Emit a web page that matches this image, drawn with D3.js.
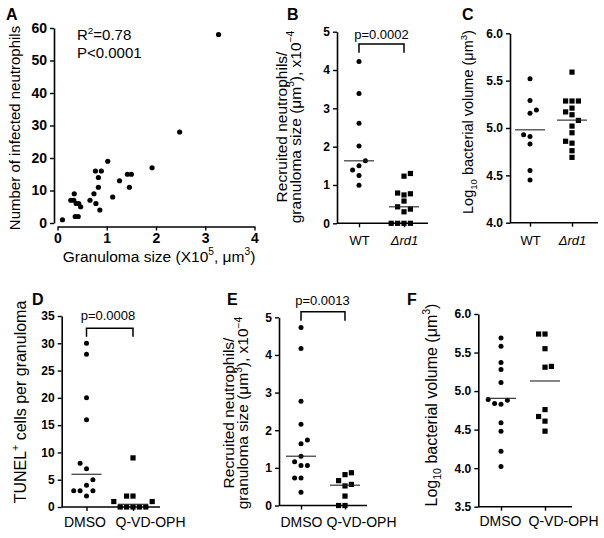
<!DOCTYPE html>
<html><head><meta charset="utf-8">
<script src="https://cdn.jsdelivr.net/npm/d3@7"></script>
<style>body{margin:0;background:#fff} svg{display:block}</style>
</head><body><svg id="c" width="604" height="538"></svg>
<script>
// ---------- DATA ----------
const aGranulomaSize = [0.10,0.27,0.34,0.33,0.38,0.43,0.47,0.36,0.42,0.66,0.74,0.78,0.86,0.77,0.89,0.83,0.83,1.02,1.12,1.26,1.42,1.50,1.46,1.92,2.48,3.27];
const aInfectedNeutrophils = [1,7,9,7,6,6,5,2,2,7,9,6,4,16,16,14,11,19,8,13,15,15,11,17,28,58];
const aXTicks = [0,1,2,3,4];
const aYTicks = [0,10,20,30,40,50,60];

const bCategories = ["WT","Δrd1"];
const bWT  = [4.22,3.39,2.61,2.02,1.63,1.50,1.39,1.25,0.99];
const bRd1 = [1.30,1.23,0.79,0.77,0.74,0.58,0.43,0.37,0.30,0,0,0,0];
const bYTicks = [0,1,2,3,4,5];
const bPValue = "p=0.0002";

const cCategories = ["WT","Δrd1"];
const cWT  = [5.52,5.29,5.19,5.155,4.93,4.91,4.83,4.55,4.45];
const cRd1 = [5.59,5.285,5.285,5.285,5.21,5.17,5.14,5.08,5.02,4.95,4.86,4.84,4.76,4.69];
const cYTicks = [4.0,4.5,5.0,5.5,6.0];

const dCategories = ["DMSO","Q-VD-OPH"];
const dDMSO = [30,28,20,16,8,7,5,4,3,3,3,2];
const dQVD  = [9,2,2,1,1,0,0,0,0,0];
const dYTicks = [0,5,10,15,20,25,30,35];
const dPValue = "p=0.0008";

const eCategories = ["DMSO","Q-VD-OPH"];
const eDMSO = [4.73,4.17,2.77,2.16,1.74,1.64,1.31,1.16,1.06,1.06,0.73,0.73,0.35];
const eQVD  = [0.87,0.82,0.66,0.56,0.52,0.25,0,0];
const eYTicks = [0,1,2,3,4,5];
const ePValue = "p=0.0013";

const fCategories = ["DMSO","Q-VD-OPH"];
const fDMSO = [5.69,5.58,5.37,5.28,5.11,4.89,4.88,4.84,4.83,4.59,4.48,4.22,4.02];
const fQVD  = [5.74,5.74,5.55,5.32,5.31,4.76,4.67,4.61,4.48];
const fYTicks = [3.5,4.0,4.5,5.0,5.5,6.0];

// ---------- DRAWING ----------
const FONT = '"Liberation Sans", Arial, Helvetica, sans-serif';
const svg = d3.select("#c");

function styleAxis(g, fs, bold){
  g.attr("font-family", FONT).attr("font-size", fs);
  g.select(".domain").attr("stroke","#000").attr("stroke-width",1.6);
  g.selectAll(".tick line").attr("stroke","#000").attr("stroke-width",1.4);
  g.selectAll(".tick text").attr("fill","#000").attr("font-weight", bold ? "bold" : "normal");
}

function richText(sel, parts, size){
  let shift = 0;
  parts.forEach(([t, ty]) => {
    const ts = sel.append("tspan").text(t);
    let target = 0, fs = size;
    if (ty === "sup"){ target = -size*0.42; fs = size*0.66; }
    if (ty === "sub"){ target = size*0.28; fs = size*0.66; }
    if (ty === "i") ts.attr("font-style","italic");
    ts.attr("font-size", fs);
    if (target !== shift){ ts.attr("dy", target - shift); shift = target; }
  });
}

function letter(x, y, t){
  svg.append("text").attr("x",x).attr("y",y).attr("font-family",FONT)
    .attr("font-weight","bold").attr("font-size",16).text(t);
}

function vTitle(x, y, parts, fs){
  const t = svg.append("text").attr("transform",`translate(${x},${y}) rotate(-90)`)
    .attr("text-anchor","middle").attr("font-family",FONT).attr("font-size",fs);
  richText(t, parts, fs);
}

function swarm(values, yScale, cx, step, minD){
  const pts = values.map(v => ({v, y: yScale(v)})).sort((a,b) => b.y - a.y);
  const placed = [];
  let nl = 0, nr = 0;
  for (const p of pts){
    for (let k = 0; k < 12; k++){
      const cands = k === 0 ? [0] : (nl <= nr ? [-k, k] : [k, -k]);
      let ok = null;
      for (const c of cands){
        const x = cx + c*step;
        if (placed.every(q => Math.hypot(q.x - x, q.y - p.y) >= minD)){ ok = c; break; }
      }
      if (ok !== null){
        p.x = cx + ok*step;
        if (ok < 0) nl++; else if (ok > 0) nr++;
        placed.push(p); break;
      }
    }
  }
  return placed;
}

// ----- Panel A -----
(function(){
  const x = d3.scaleLinear().domain([0,4]).range([57.5,254.5]);
  const y = d3.scaleLinear().domain([0,60]).range([223,28]);
  svg.append("g").attr("transform","translate(54,0)")
    .call(d3.axisLeft(y).tickValues(aYTicks).tickFormat(d3.format("d")).tickSize(4).tickSizeOuter(0).tickPadding(3))
    .call(g => styleAxis(g,14,true));
  svg.append("g").attr("transform","translate(0,226.5)")
    .call(d3.axisBottom(x).tickValues(aXTicks).tickFormat(d3.format("d")).tickSize(4).tickSizeOuter(0).tickPadding(3))
    .call(g => styleAxis(g,14,true));
  svg.append("g").selectAll("circle")
    .data(d3.zip(aGranulomaSize, aInfectedNeutrophils)).join("circle")
    .attr("cx", d => x(d[0])).attr("cy", d => y(d[1])).attr("r",2.6).attr("fill","#000");
  letter(6,20,"A");
  const r = svg.append("text").attr("x",77).attr("y",40).attr("font-family",FONT).attr("font-size",15);
  richText(r, [["R"],["2","sup"],["=0.78"]], 15);
  svg.append("text").attr("x",77).attr("y",58).attr("font-family",FONT).attr("font-size",15).text("P<0.0001");
  const xt = svg.append("text").attr("x",159).attr("y",262).attr("text-anchor","middle")
    .attr("font-family",FONT).attr("font-size",15.5);
  richText(xt, [["Granuloma size (X10"],["5","sup"],[", μm"],["3","sup"],[")"]], 15.5);
  vTitle(20,128,[["Number of infected neutrophils"]],15);
})();

// ----- Dot panels -----
function dotPanel(o){
  const g = svg.append("g");
  const y = d3.scaleLinear().domain(o.yDomain).range([o.yBottom,o.yTop]);
  const x = d3.scalePoint().domain(o.cats).range(o.catX);
  g.append("g").attr("transform",`translate(${o.axisX},0)`)
    .call(d3.axisLeft(y).tickValues(o.yTicks).tickFormat(o.fmt).tickSize(4).tickSizeOuter(0).tickPadding(3))
    .call(a => styleAxis(a,o.tickFs,true));
  const xa = g.append("g").attr("transform",`translate(0,${o.yBottom})`)
    .call(d3.axisBottom(x).tickSize(4).tickSizeOuter(0));
  xa.select(".domain").remove();
  styleAxis(xa,o.labelFs,false);
  xa.selectAll(".tick text").attr("y", o.labelY - o.yBottom).attr("dy",0)
    .attr("dx",(d,i) => o.labelDx[i])
    .attr("font-style", d => d.startsWith("Δ") ? "italic" : "normal");
  g.append("line").attr("x1",o.axisX).attr("x2",o.xEnd).attr("y1",o.yBottom).attr("y2",o.yBottom)
    .attr("stroke","#000").attr("stroke-width",1.6);

  o.groups.forEach((vals, i) => {
    const cx = x(o.cats[i]);
    const pts = swarm(vals, y, cx, 6.4, 6);
    if (o.shapes[i] === "circle"){
      g.append("g").selectAll("circle").data(pts).join("circle")
        .attr("cx", d => d.x).attr("cy", d => d.y).attr("r",2.5).attr("fill","#000");
    } else {
      g.append("g").selectAll("rect").data(pts).join("rect")
        .attr("x", d => d.x - 2.6).attr("y", d => d.y - 2.6).attr("width",5.2).attr("height",5.2).attr("fill","#000");
    }
    const s = o.stat(vals);
    g.append("line").attr("x1",cx-15).attr("x2",cx+15).attr("y1",y(s)).attr("y2",y(s))
      .attr("stroke","#222").attr("stroke-width",1.1);
  });

  if (o.pText){
    const x1 = x(o.cats[0]), x2 = x(o.cats[1]);
    g.append("path").attr("d",`M${x1},${o.brY+o.brH}V${o.brY}H${x2}V${o.brY+o.brH}`)
      .attr("fill","none").attr("stroke","#000").attr("stroke-width",1.5);
    g.append("text").attr("x",o.pX).attr("y",o.pY).attr("text-anchor","middle")
      .attr("font-family",FONT).attr("font-size",13).text(o.pText);
  }
  o.titles.forEach((parts, i) => vTitle(o.titleX[i], o.titleY, parts, o.titleFs));
  letter(o.letterX, o.letterY, o.letter);
}

const recruitTitle = [
  [["Recruited neutrophils/"]],
  [["granuloma size (μm"],["3","sup"],["), x10"],["−4","sup"]]
];
const logTitle = [[["Log"],["10","sub"],[" bacterial volume (μm"],["3","sup"],[")"]]];

dotPanel({letter:"B", letterX:287, letterY:20,
  axisX:337, yTop:31.7, yBottom:223.3, yDomain:[0,5], yTicks:bYTicks, fmt:d3.format("d"),
  xEnd:428, cats:bCategories, catX:[359,404], groups:[bWT,bRd1], shapes:["circle","square"], stat:d3.median,
  labelY:245, labelFs:13, labelDx:[0,0], tickFs:12,
  pText:bPValue, pX:381.5, pY:38.5, brY:44, brH:8.7,
  titles:recruitTitle, titleX:[287,300.5], titleY:127, titleFs:15.5});

dotPanel({letter:"C", letterX:462, letterY:20,
  axisX:510, yTop:33.3, yBottom:222.7, yDomain:[4,6], yTicks:cYTicks, fmt:d3.format(".1f"),
  xEnd:598, cats:cCategories, catX:[530,572], groups:[cWT,cRd1], shapes:["circle","square"], stat:d3.mean,
  labelY:245, labelFs:13, labelDx:[0,0], tickFs:12,
  titles:logTitle, titleX:[473], titleY:122, titleFs:14.5});

dotPanel({letter:"D", letterX:32, letterY:305,
  axisX:61.7, yTop:316, yBottom:507, yDomain:[0,35], yTicks:dYTicks, fmt:d3.format("d"),
  xEnd:160, cats:dCategories, catX:[86.5,133], groups:[dDMSO,dQVD], shapes:["circle","square"], stat:d3.median,
  labelY:526.5, labelFs:14, labelDx:[-2,17], tickFs:12,
  pText:dPValue, pX:108, pY:319.5, brY:328.3, brH:8.4,
  titles:[[["TUNEL"],["+","sup"],[" cells per granuloma"]]], titleX:[26], titleY:402, titleFs:16});

dotPanel({letter:"E", letterX:227, letterY:305,
  axisX:279, yTop:317.3, yBottom:505.5, yDomain:[0,5], yTicks:eYTicks, fmt:d3.format("d"),
  xEnd:367, cats:eCategories, catX:[301,345], groups:[eDMSO,eQVD], shapes:["circle","square"], stat:d3.median,
  labelY:526.5, labelFs:14, labelDx:[0,16], tickFs:12,
  pText:ePValue, pX:322.5, pY:304.5, brY:311.7, brH:9,
  titles:recruitTitle, titleX:[233.5,248], titleY:413, titleFs:15.5});

dotPanel({letter:"F", letterX:407, letterY:305,
  axisX:478.3, yTop:314, yBottom:506.7, yDomain:[3.5,6], yTicks:fYTicks, fmt:d3.format(".1f"),
  xEnd:572, cats:fCategories, catX:[501,545], groups:[fDMSO,fQVD], shapes:["circle","square"], stat:d3.mean,
  labelY:526.5, labelFs:14, labelDx:[-1,18], tickFs:12,
  titles:logTitle, titleX:[437], titleY:405, titleFs:16});
</script></body></html>
